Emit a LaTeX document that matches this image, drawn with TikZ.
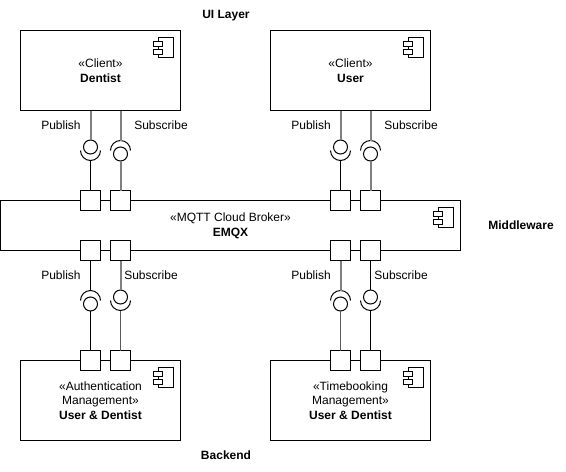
\documentclass[tikz,border=0pt]{standalone}
\usepackage{fontspec}
\setmainfont{Liberation Sans}
\tikzset{x=0.75pt,y=-0.75pt,
  port/.style={draw=black,fill=white,line width=0.75pt,minimum width=15pt,minimum height=15pt,inner sep=0pt,outer sep=0pt},
  box/.style={draw=black,fill=white,line width=0.75pt,inner sep=0pt,outer sep=0pt,align=center,font=\fontsize{9}{11}\selectfont},
  lab/.style={font=\fontsize{9}{11}\selectfont,inner sep=0pt},
  head/.style={font=\fontsize{9}{11}\selectfont\bfseries,inner sep=0pt},
  bw/.style={line width=0.75pt,draw=black},
  gw/.style={line width=1.5pt,draw=black!50},
  tw/.style={line width=1.1pt,draw=black!65},
  ball/.style={circle,draw=black,fill=white,line width=0.75pt,minimum size=10.5pt,inner sep=0pt,outer sep=0pt},
  sock/.style={line width=0.75pt,draw=black},
}
\newcommand{\compicon}[2]{%
  \draw[line width=0.75pt] (#1,#2) rectangle ++(15,20);
  \draw[line width=0.75pt,fill=white] (#1-5,#2+3.5) rectangle ++(9,5);
  \draw[line width=0.75pt,fill=white] (#1-5,#2+11.5) rectangle ++(9,5);
}
% args: name, x, socket centre y, upper-end node, lower-end node, upper style, lower style
\newcommand{\ifbelow}[7]{%
  \node[ball] (#1) at (#2,#3-3.5) {};
  \coordinate (#1s) at (#2,#3+10);
  \draw[sock] (#2-10,#3) arc[start angle=180,end angle=360,radius=7.5pt];
  \draw[#6] (#4) -- (#1.north);
  \draw[#7] (#1s) -- (#5);
}
\newcommand{\ifabove}[7]{%
  \node[ball] (#1) at (#2,#3+3.5) {};
  \coordinate (#1s) at (#2,#3-10);
  \draw[sock] (#2-10,#3) arc[start angle=180,end angle=0,radius=7.5pt];
  \draw[#6] (#4) -- (#1s);
  \draw[#7] (#1.south) -- (#5);
}
\begin{document}
\begin{tikzpicture}
\useasboundingbox (-0.5,-0.5) rectangle (565.5,470.5);
\node[box,minimum width=120pt,minimum height=60pt] (dent) at (100,70) {«Client»\\\textbf{Dentist}};
\node[box,minimum width=120pt,minimum height=60pt] (usr) at (350,70) {«Client»\\\textbf{User}};
\node[box,minimum width=345pt,minimum height=37.5pt] (emqx) at (230,225) {«MQTT Cloud Broker»\\\textbf{EMQX}};
\node[box,minimum width=120pt,minimum height=60pt] (auth) at (100,400) {«Authentication\\Management»\\\textbf{User \& Dentist}};
\node[box,minimum width=120pt,minimum height=60pt] (time) at (350,400) {«Timebooking\\Management»\\\textbf{User \& Dentist}};
\compicon{158}{37}
\compicon{408}{37}
\compicon{438}{207}
\compicon{158}{367}
\compicon{408}{367}
\foreach \n/\x in {a/90,b/120,c/340,d/370}{
  \node[port] (t\n) at (\x,200) {};
  \node[port] (m\n) at (\x,250) {};
  \node[port] (l\n) at (\x,360) {};
}
\ifbelow{ua}{90}{150}{ua|-dent.south}{ta.north}{gw}{bw}
\ifabove{ub}{120}{150}{ub|-dent.south}{tb.north}{gw}{gw}
\ifbelow{uc}{340}{150}{uc|-usr.south}{tc.north}{gw}{bw}
\ifabove{ud}{370}{150}{ud|-usr.south}{td.north}{gw}{gw}
\ifabove{da}{90}{300}{ma.south}{la.north}{bw}{bw}
\ifbelow{db}{120}{300}{mb.south}{lb.north}{gw}{tw}
\ifabove{dc}{340}{300}{mc.south}{lc.north}{gw}{tw}
\ifbelow{dd}{370}{300}{md.south}{ld.north}{bw}{bw}
\node[lab] (p1) at (60.5,125) {Publish};
\node[lab] (s1) at (160.5,125) {Subscribe};
\node[lab] (p2) at (310.5,125) {Publish};
\node[lab] (s2) at (410.5,125) {Subscribe};
\node[lab] (p3) at (60.5,275) {Publish};
\node[lab] (s3) at (150.5,275) {Subscribe};
\node[lab] (p4) at (310.5,275) {Publish};
\node[lab] (s4) at (400.5,275) {Subscribe};
\node[head] (ui) at (225.5,15) {UI Layer};
\node[head] (mw) at (520.5,225) {Middleware};
\node[head] (be) at (225.5,455) {Backend};
\end{tikzpicture}
\end{document}
